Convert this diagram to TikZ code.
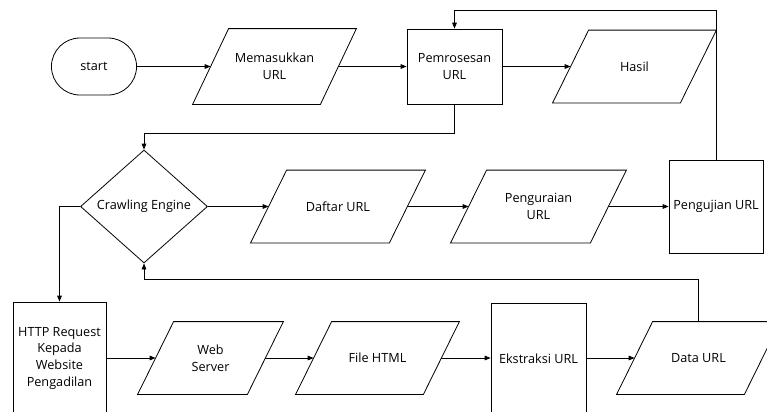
\documentclass[tikz,border=0pt]{standalone}
\usepackage{fontspec}
\setmainfont{Open Sans}
\usetikzlibrary{shapes.geometric,shapes.misc,arrows.meta,positioning}

\begin{document}
\begin{tikzpicture}[
  x=0.75pt,y=-0.75pt,
  font=\fontsize{9.5}{12.5}\selectfont,
  line width=0.6pt,
  termbox/.style={draw,rounded rectangle,minimum width=70.5pt,minimum height=42.75pt},
  procbox/.style={draw,rectangle,align=center,inner sep=1pt},
  iobox/.style={rectangle,align=center,inner sep=1pt,minimum height=54pt,
    append after command={\pgfextra{
      \draw ([xshift=13.5pt]\tikzlastnode.north west) -- ([xshift=13.5pt]\tikzlastnode.north east)
        -- ([xshift=-13.5pt]\tikzlastnode.south east) -- ([xshift=-13.5pt]\tikzlastnode.south west) -- cycle;}}},
  decbox/.style={draw,diamond,aspect=1,inner sep=0pt,minimum width=95.25pt,minimum height=84.75pt},
  arr/.style={-{Triangle[length=4.5pt,width=3.5pt]}},
]
\useasboundingbox (0,0) rectangle (767,411);
\clip (0,0) rectangle (767,411);

% baris atas
\node[termbox] (start) at (94,66.5) {start};
\node[iobox,minimum width=95.25pt,minimum height=56.25pt] (masuk) at (274.5,66.5) {Memasukkan\\URL};
\node[procbox,minimum width=71.25pt,minimum height=56.25pt] (proses) at (454.5,66.5) {Pemrosesan\\URL};
\node[iobox,minimum width=95.25pt] (hasil) at (634.5,66.5) {Hasil};

% baris tengah
\node[decbox] (crawl) at (144,206.5) {Crawling Engine};
\node[iobox,minimum width=103.5pt] (daftar) at (338,206.5) {Daftar URL};
\node[iobox,minimum width=104.25pt] (urai) at (538.5,206.5) {Penguraian\\URL};
\node[procbox,minimum width=70.5pt,minimum height=69.75pt] (uji) at (716,206.5) {Pengujian URL};

% baris bawah
\node[procbox,minimum width=69.75pt,minimum height=84pt] (http) at (59.5,358) {HTTP Request\\Kepada\\Website\\Pengadilan};
\node[iobox,minimum width=81.75pt] (web) at (210.5,358) {Web\\Server};
\node[iobox,minimum width=95.25pt] (html) at (377.5,358) {File HTML};
\node[procbox,minimum width=71.25pt,minimum height=84pt] (ekstrak) at (538.5,359) {Ekstraksi URL};
\node[iobox,minimum width=95.25pt] (data) at (698.5,358) {Data URL};

\draw[arr] (start) -- (masuk);
\draw[arr] (masuk) -- (proses);
\draw[arr] (proses) -- (hasil);
\draw[arr] (uji.north) -- ++(0,-149) -| (proses.north);
\draw[arr] (proses.south) -- ++(0,28.5) -| (crawl.north);

\draw[arr] (crawl) -- (daftar);
\draw[arr] (daftar) -- (urai);
\draw[arr] (urai) -- (uji);
\draw[arr] (crawl.west) -| (http.north);

\draw[arr] (http.east |- web) -- (web);
\draw[arr] (web) -- (html);
\draw[arr] (html) -- (ekstrak.west |- html);
\draw[arr] (ekstrak.east |- data) -- (data);
\draw[arr] (data.north) -- ++(0,-42) -| (crawl.south);

\end{tikzpicture}
\end{document}
